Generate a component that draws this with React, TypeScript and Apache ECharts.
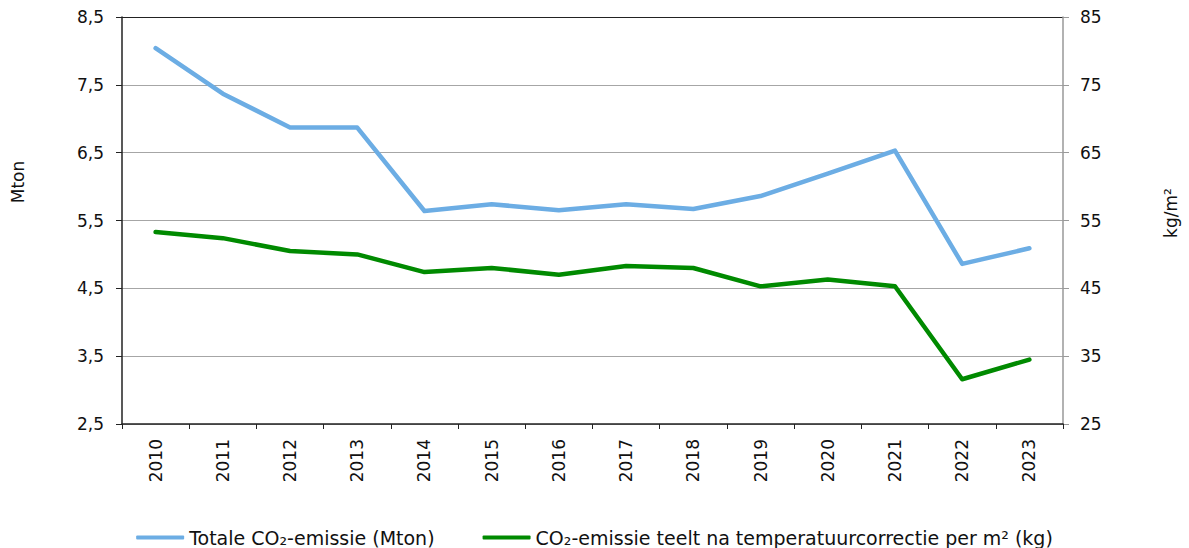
import React, { useEffect, useRef } from "react";
import * as echarts from "echarts";

const years = ["2010","2011","2012","2013","2014","2015","2016","2017","2018","2019","2020","2021","2022","2023"];
const totalCO2 = [8.04, 7.37, 6.87, 6.87, 5.64, 5.74, 5.65, 5.74, 5.67, 5.86, 6.19, 6.53, 4.86, 5.09];
const perM2 = [53.3, 52.4, 50.5, 50.0, 47.4, 48.0, 47.0, 48.3, 48.0, 45.3, 46.3, 45.3, 31.6, 34.5];
const seriesNames = ["Totale CO₂-emissie (Mton)", "CO₂-emissie teelt na temperatuurcorrectie per m² (kg)"];
const leftName = "Mton";
const rightName = "kg/m²";

const FONT = "DejaVu Sans";

export default function App() {
  const ref = useRef<HTMLDivElement>(null);
  useEffect(() => {
    document.body.style.margin = "0";
    const chart = echarts.init(ref.current!, null, { renderer: "svg" });
    const gridColors = ["#a6a6a6", "#a6a6a6", "#a6a6a6", "#a6a6a6", "#a6a6a6", "#a6a6a6", "#222"];
    chart.setOption({
      animation: false,
      backgroundColor: "#fff",
      textStyle: { fontFamily: FONT },
      grid: { left: 122, right: 126, top: 17, bottom: 124 },
      legend: {
        top: 523,
        left: "center",
        icon: "roundRect",
        itemWidth: 48,
        itemHeight: 4,
        itemGap: 48,
        textStyle: { fontFamily: FONT, fontSize: 19, color: "#111" },
        data: seriesNames,
      },
      xAxis: {
        type: "category",
        data: years,
        boundaryGap: true,
        axisLine: { lineStyle: { color: "#222", width: 1.5 } },
        axisTick: { show: true, length: 5, lineStyle: { color: "#222" } },
        axisLabel: { rotate: 90, margin: 15, fontSize: 17, color: "#111", fontFamily: FONT },
      },
      yAxis: [
        {
          type: "value",
          min: 2.5,
          max: 8.5,
          interval: 1,
          position: "left",
          axisLine: { show: true, lineStyle: { color: "#222", width: 1.5 } },
          axisTick: { show: true, length: 6, lineStyle: { color: "#222" } },
          axisLabel: {
            margin: 18,
            fontSize: 17,
            color: "#111",
            fontFamily: FONT,
            formatter: (v: number) => v.toFixed(1).replace(".", ","),
          },
          splitLine: { show: true, lineStyle: { color: gridColors, width: 1.2 } },
        },
        {
          type: "value",
          min: 25,
          max: 85,
          interval: 10,
          position: "right",
          axisLine: { show: true, lineStyle: { color: "#999", width: 1.5 } },
          axisTick: { show: true, length: 6, lineStyle: { color: "#999" } },
          axisLabel: { margin: 17, fontSize: 17, color: "#111", fontFamily: FONT },
          splitLine: { show: false },
        },
      ],
      graphic: [
        {
          type: "text",
          x: 18,
          y: 182,
          rotation: Math.PI / 2,
          style: { text: leftName, fontSize: 17, fontFamily: FONT, fill: "#111", align: "center", verticalAlign: "middle" },
        },
        {
          type: "text",
          x: 1171,
          y: 213,
          rotation: Math.PI / 2,
          style: { text: rightName, fontSize: 17, fontFamily: FONT, fill: "#111", align: "center", verticalAlign: "middle" },
        },
      ],
      series: [
        {
          name: seriesNames[0],
          type: "line",
          yAxisIndex: 0,
          data: totalCO2,
          symbol: "none",
          lineStyle: { color: "#6CADE4", width: 4.5, join: "round", cap: "round" },
          itemStyle: { color: "#6CADE4" },
        },
        {
          name: seriesNames[1],
          type: "line",
          yAxisIndex: 1,
          data: perM2,
          symbol: "none",
          lineStyle: { color: "#008A00", width: 4.5, join: "round", cap: "round" },
          itemStyle: { color: "#008A00" },
        },
      ],
    });
    return () => chart.dispose();
  }, []);
  return <div ref={ref} style={{ width: 1189, height: 548 }} />;
}
